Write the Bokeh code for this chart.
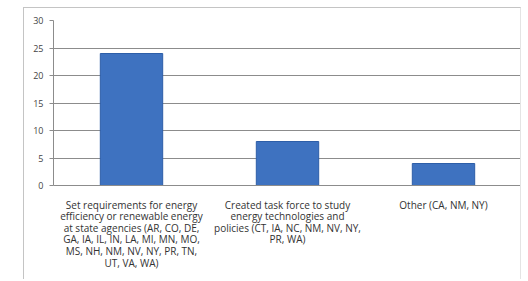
from bokeh.plotting import figure
from bokeh.models import Range1d, FixedTicker, ColumnDataSource
from bokeh.embed import file_html
from bokeh.resources import INLINE

categories = [
    "Set requirements for energy\nefficiency or renewable energy\nat state agencies (AR, CO, DE,\nGA, IA, IL, IN, LA, MI, MN, MO,\nMS, NH, NM, NV, NY, PR, TN,\nUT, VA, WA)",
    "Created task force to study\nenergy technologies and\npolicies (CT, IA, NC, NM, NV, NY,\nPR, WA)",
    "Other (CA, NM, NY)",
]
values = [24, 8, 4]
y_ticks = [0, 5, 10, 15, 20, 25, 30]

FONT = "Open Sans"

p = figure(x_range=categories, y_range=Range1d(0, 30),
           width=498, height=272, output_backend="svg", toolbar_location=None,
           min_border_left=29, min_border_right=1, min_border_top=12, min_border_bottom=95)
p.styles = {"margin-left": "23px", "margin-top": "7px",
            "border-left": "1px solid #c4c4c4",
            "border-top": "1px solid #c4c4c4",
            "border-right": "1px solid #e4e4e4"}

src = ColumnDataSource(dict(cat=categories, val=values))
p.vbar(x="cat", top="val", width=0.4, source=src,
       fill_color="#3e72c0", line_color="#2d5ea8", line_width=1)

p.outline_line_color = None
p.xgrid.grid_line_color = None
p.ygrid.grid_line_color = "#8c8c8c"
p.ygrid.grid_line_width = 1

p.yaxis.ticker = FixedTicker(ticks=y_ticks)
p.yaxis.axis_line_color = "#8c8c8c"
p.yaxis.major_tick_line_color = "#8c8c8c"
p.yaxis.major_tick_out = 4
p.yaxis.major_tick_in = 0
p.yaxis.minor_tick_line_color = None
p.yaxis.major_label_text_font = FONT
p.yaxis.major_label_text_font_size = "9px"
p.yaxis.major_label_text_color = "#444444"
p.yaxis.major_label_standoff = 6

p.xaxis.axis_line_color = "#8c8c8c"
p.xaxis.major_tick_line_color = None
p.xaxis.minor_tick_line_color = None
p.xaxis.major_label_text_font = FONT
p.xaxis.major_label_text_font_size = "10px"
p.xaxis.major_label_text_color = "#333333"
p.xaxis.major_label_standoff = 6
p.xaxis.major_label_text_line_height = 0.83

open("out.html", "w").write(file_html(p, INLINE))
